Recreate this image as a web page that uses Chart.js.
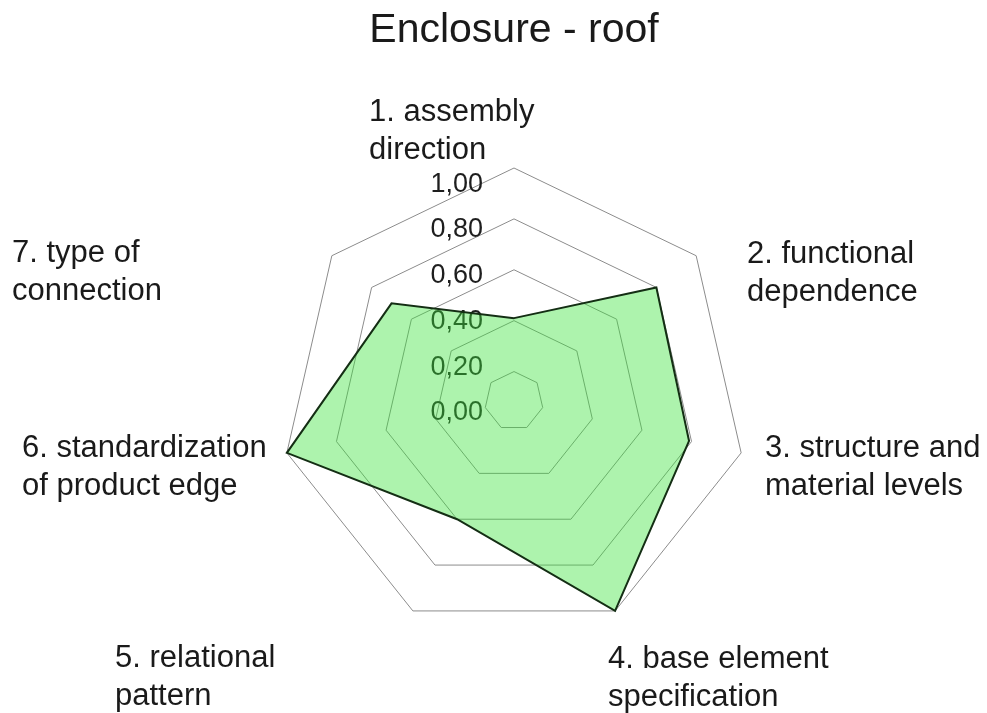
<!DOCTYPE html>
<html>
<head>
<meta charset="utf-8">
<script src="https://cdn.jsdelivr.net/npm/chart.js@4.4.1/dist/chart.umd.min.js"></script>
<style>
  body { margin: 0; background: #ffffff; }
</style>
</head>
<body>
<canvas id="roofChart" width="987" height="713"></canvas>
<script>
// Axis names (one array per line break)
const categories = [
    ['1. assembly', 'direction'],
    ['2. functional', 'dependence'],
    ['3. structure and', 'material levels'],
    ['4. base element', 'specification'],
    ['5. relational', 'pattern'],
    ['6. standardization', 'of product edge'],
    ['7. type of', 'connection']
];

// Scores
const roofScores = [0.41, 0.80, 0.79, 1.00, 0.60, 1.00, 0.70];

// Scale: the centre sits a little above zero in the original
const scaleMin = 0.0843;
const scaleMax = 1.0;
const ringValues = [scaleMin, 0.2, 0.4, 0.6, 0.8, 1.0];

// Tick labels printed along the vertical axis
const tickValues = [0, 0.2, 0.4, 0.6, 0.8, 1.0];
const tickLabels = ['0,00', '0,20', '0,40', '0,60', '0,80', '1,00'];

const FONT = '"Liberation Sans", Arial, Helvetica, sans-serif';

// Tick labels sit under the green fill, so they go in before the datasets
const tickLabelPlugin = {
    id: 'tickLabelPlugin',
    beforeDatasetsDraw(chart) {
        const scale = chart.scales.r;
        const ctx = chart.ctx;
        ctx.save();
        ctx.font = '27px ' + FONT;
        ctx.fillStyle = '#1e1e1e';
        ctx.textAlign = 'right';
        ctx.textBaseline = 'alphabetic';
        tickValues.forEach((v, i) => {
            const d = scale.getDistanceFromCenterForValue(v);
            ctx.fillText(tickLabels[i], scale.xCenter - 31, scale.yCenter - d * 0.898);
        });
        ctx.restore();
    }
};

// Axis names are placed off to the side like in the original
const pointLabelPlugin = {
    id: 'pointLabelPlugin',
    afterDraw(chart) {
        const scale = chart.scales.r;
        const ctx = chart.ctx;
        // left edge / first baseline, relative to the centre
        const offsets = [
            [-145, -280],
            [233, -138],
            [251, 56],
            [94, 267],
            [-399, 266],
            [-492, 56],
            [-502, -139]
        ];
        ctx.save();
        ctx.font = '31px ' + FONT;
        ctx.fillStyle = '#1a1a1a';
        ctx.textAlign = 'left';
        ctx.textBaseline = 'alphabetic';
        categories.forEach((lines, i) => {
            const x = scale.xCenter + offsets[i][0];
            const y = scale.yCenter + offsets[i][1];
            lines.forEach((line, j) => {
                ctx.fillText(line, x, y + j * 38);
            });
        });
        ctx.restore();
    }
};

const ctx = document.getElementById('roofChart').getContext('2d');

new Chart(ctx, {
    type: 'radar',
    data: {
        labels: categories,
        datasets: [{
            label: 'Enclosure - roof',
            data: roofScores,
            fill: true,
            backgroundColor: 'rgba(60, 226, 60, 0.42)',
            borderColor: '#142e14',
            borderWidth: 2,
            pointRadius: 0,
            pointHoverRadius: 0,
            tension: 0
        }]
    },
    options: {
        responsive: false,
        animation: false,
        layout: {
            padding: { left: 41, right: 0, top: 0, bottom: 78 }
        },
        plugins: {
            legend: { display: false },
            tooltip: { enabled: false },
            title: {
                display: true,
                text: 'Enclosure - roof',
                color: '#1a1a1a',
                font: { family: FONT, size: 41, weight: 'normal', lineHeight: 1.2 },
                padding: { top: 6, bottom: 113 }
            }
        },
        scales: {
            r: {
                min: scaleMin,
                max: scaleMax,
                afterBuildTicks: function(scale) {
                    scale.ticks = ringValues.map(v => ({ value: v }));
                },
                angleLines: { display: false },
                grid: {
                    color: '#8c8c8c',
                    lineWidth: 1
                },
                ticks: { display: false },
                pointLabels: { display: false }
            }
        }
    },
    plugins: [tickLabelPlugin, pointLabelPlugin]
});
</script>
</body>
</html>
